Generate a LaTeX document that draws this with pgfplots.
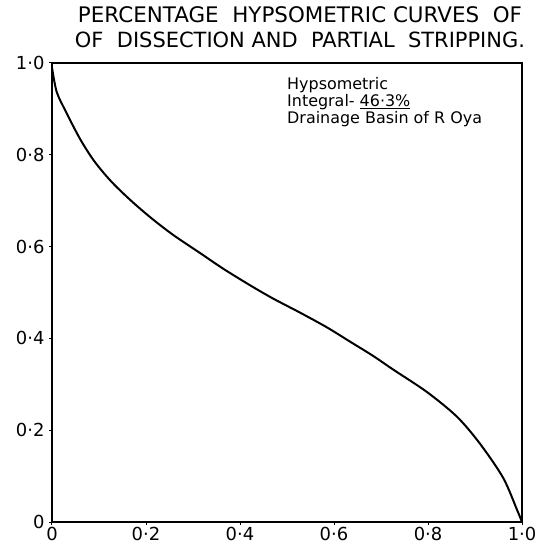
\documentclass[border=0pt]{standalone}
\usepackage{fontspec}
\setmainfont{DejaVu Sans}
\usepackage{pgfplots}
\pgfplotsset{compat=1.18}
\begin{document}
\begin{tikzpicture}[x=1bp,y=1bp]
\path[use as bounding box] (-52,-29) rectangle (483,522);
\begin{axis}[
  at={(0,0)}, anchor=south west,
  scale only axis, width=470bp, height=459bp,
  xmin=0, xmax=1, ymin=0, ymax=1,
  axis line style={line width=1.8bp},
  xtick={0,0.2,0.4,0.6,0.8,1},
  ytick={0,0.2,0.4,0.6,0.8,1},
  xticklabels={0,0·2,0·4,0·6,0·8,1·0},
  yticklabels={0,0·2,0·4,0·6,0·8,1·0},
  tick pos=left,
  tick align=outside, major tick length=3bp,
  tick style={line width=1bp, black},
  ticklabel style={font=\fontsize{18}{18}\selectfont},
  xticklabel style={yshift=1bp},
  yticklabel style={xshift=-1bp},
  /pgf/number format/assume math mode=true,
  clip=false,
]
\addplot[black, line width=2bp, smooth, tension=0.5] coordinates {
(0,0.99) (0.01,0.937) (0.03,0.893) (0.06,0.834) (0.09,0.786)
(0.125,0.743) (0.165,0.703) (0.209,0.664) (0.257,0.626) (0.315,0.586)
(0.364,0.552) (0.421,0.516) (0.470,0.487) (0.528,0.456) (0.585,0.424)
(0.634,0.393) (0.683,0.362) (0.726,0.332) (0.798,0.283) (0.862,0.229)
(0.911,0.170) (0.960,0.096) (0.990,0.025) (1,0)
};
\end{axis}
\node[anchor=center] at (248,507) {\resizebox{444bp}{!}{\fontsize{19}{19}\selectfont PERCENTAGE\ \ HYPSOMETRIC CURVES\ \ OF}};
\node[anchor=center] at (248,482) {\resizebox{450bp}{!}{\fontsize{19}{19}\selectfont OF\ \ DISSECTION AND\ \ PARTIAL\ \ STRIPPING.}};
\node[anchor=north west, align=left, inner sep=0pt, font=\fontsize{16}{17}\selectfont] at (235,445)
 {Hypsometric\\ Integral- \underline{46·3\%}\\ Drainage Basin of R Oya};
\end{tikzpicture}
\end{document}
